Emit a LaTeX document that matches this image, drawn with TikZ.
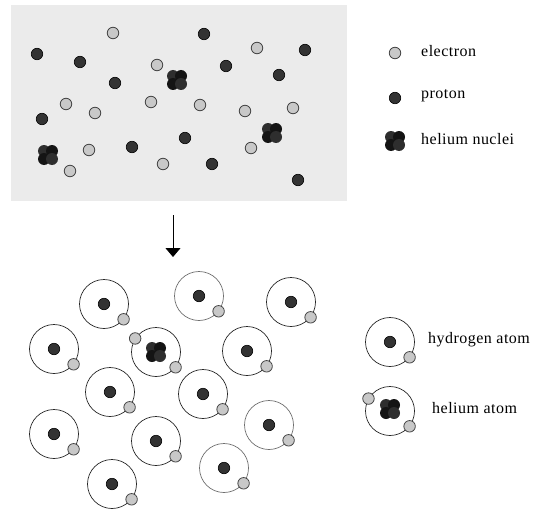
\documentclass[tikz,border=0pt]{standalone}
\usepackage{fontspec}
\setmainfont{Liberation Serif}[LetterSpace=3]
\usetikzlibrary{arrows.meta}

\definecolor{gasbg}{HTML}{EBEBEB}
\definecolor{elecfill}{HTML}{C8C8C8}
\definecolor{elecline}{HTML}{444444}
\definecolor{protfill}{HTML}{333333}
\definecolor{nucA}{HTML}{2E2E2E}
\definecolor{nucB}{HTML}{141414}
\definecolor{orbitgray}{HTML}{6E6E6E}

\tikzset{
  electron/.style={circle, draw=elecline, fill=elecfill, line width=0.8pt,
    minimum size=11.5pt, inner sep=0pt},
  proton/.style={circle, draw=black, fill=protfill, line width=0.6pt,
    minimum size=11.5pt, inner sep=0pt},
  nucleus/.style={circle, minimum size=20pt, inner sep=0pt},
  orbit/.style={circle, draw=black!85, line width=0.7pt, minimum size=49pt,
    inner sep=0pt},
  faintorbit/.style={orbit, draw=orbitgray},
  label/.style={anchor=west, font=\fontsize{16pt}{18pt}\selectfont, inner sep=0pt},
  pics/hecore/.style={code={
    \fill[nucA] (-4,-4) circle (6pt);
    \fill[nucB] (4,-4) circle (6pt);
    \fill[nucB] (-4,4) circle (6pt);
    \fill[nucA] (4,4) circle (6pt);
  }}
}

\newcommand{\hecoreat}[2]{%
  \node[nucleus] (#1) at (#2) {};
  \pic at (#1) {hecore};}

\begin{document}
\begin{tikzpicture}[x=1pt, y=-1pt]
\useasboundingbox (0,0) rectangle (540,508);

% ionised gas
\node[fill=gasbg, minimum width=336pt, minimum height=196pt, inner sep=0pt,
  anchor=north west] (gas) at (11,5) {};

% free electrons
\foreach \p [count=\i] in {(113,33),(157,65),(257,48),(66,104),(95,113),
  (151,102),(200,105),(245,111),(293,108),(89,150),(70,171),(163,164),(251,148)}
  \node[electron] (fe\i) at \p {};

% free protons
\foreach \p [count=\i] in {(204,34),(37,54),(80,62),(305,50),(115,83),
  (226,66),(279,75),(42,119),(185,138),(132,147),(212,164),(298,180)}
  \node[proton] (fp\i) at \p {};

% free helium nuclei
\hecoreat{fh1}{177,80}
\hecoreat{fh2}{272,133}
\hecoreat{fh3}{48,155}

% legend for the gas
\node[electron] (legE) at (395,53) {};
\node[label] (legEt) at (421,51) {electron};
\node[proton] (legP) at (395,98) {};
\node[label] (legPt) at (421,96) {proton};
\hecoreat{legH}{395,141}
\node[label] (legHt) at (421,139) {helium nuclei};

% recombination arrow
\coordinate (arrS) at (173,215);
\coordinate (arrE) at (173,257);
\draw[line width=0.9pt, -{Triangle[length=9pt,width=15pt]}] (arrS) -- (arrE);

% hydrogen atoms
\foreach \ax/\ay/\st [count=\i] in {104/304/orbit, 199/296/faintorbit,
  291/302/orbit, 54/349/orbit, 247/351/orbit, 110/392/orbit,
  203/394/orbit, 54/434/orbit, 156/441/orbit, 269/425/faintorbit,
  224/468/faintorbit, 112/484/orbit}{
  \node[\st] (h\i) at (\ax,\ay) {};
  \node[proton] (hp\i) at (h\i.center) {};
  \node[electron] (he\i) at (h\i.-38) {};
}

% helium atom
\node[orbit] (heat) at (156,352) {};
\hecoreat{hen}{156,352}
\node[electron] (hee1) at (heat.147) {};
\node[electron] (hee2) at (heat.-38) {};

% legend for the atoms
\node[orbit] (legHy) at (390,342) {};
\node[proton] (legHyp) at (legHy.center) {};
\node[electron] (legHye) at (legHy.-38) {};
\node[label] (legHyt) at (428,340) {hydrogen atom};

\node[orbit] (legHe) at (390,411) {};
\hecoreat{legHen}{390,409}
\node[electron] (legHee1) at (legHe.150) {};
\node[electron] (legHee2) at (legHe.-38) {};
\node[label] (legHet) at (432,408) {helium atom};
\end{tikzpicture}
\end{document}
